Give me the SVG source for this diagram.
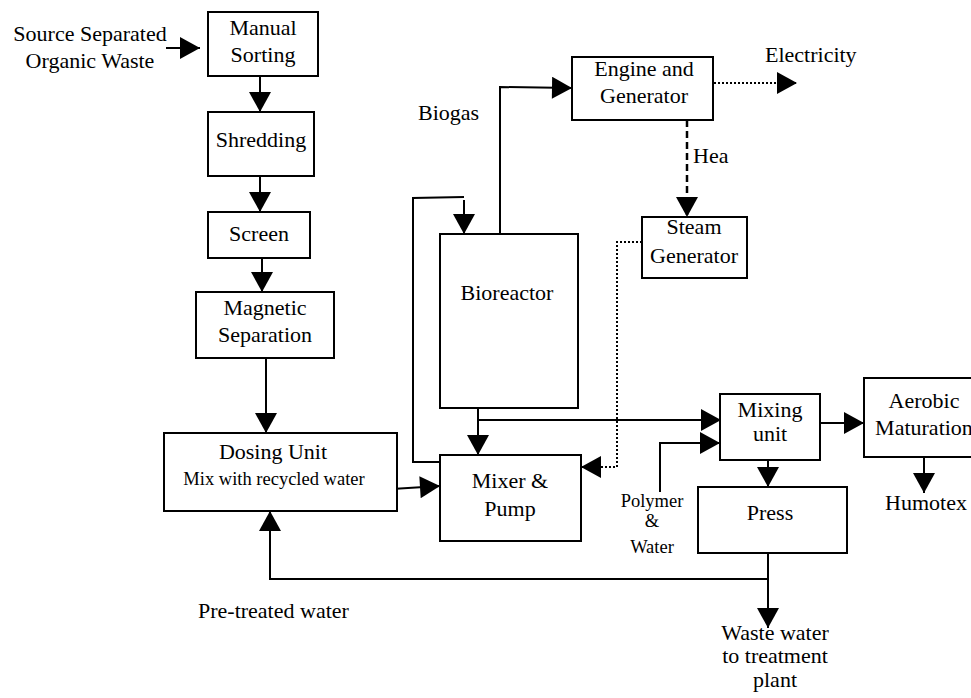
<svg xmlns="http://www.w3.org/2000/svg" width="971" height="698" viewBox="0 0 971 698">
<defs>
<style>
.box{fill:#fff;stroke:#000;stroke-width:2}
text{font-family:'Liberation Serif','DejaVu Serif',serif;font-size:22px;fill:#000;text-anchor:middle}
.s{font-size:18.5px}
.l{text-anchor:start}
.c{fill:none;stroke:#000;stroke-width:2}
.dot{stroke-dasharray:2,2}
.dash{stroke-dasharray:7,4;stroke-width:2.5}
</style>
<marker id="ah" markerUnits="userSpaceOnUse" markerWidth="22" markerHeight="22" refX="20" refY="11" orient="auto" viewBox="0 0 20 22">
<path d="M0,0 L20,11 L0,22 z" fill="#000"/>
</marker>
</defs>
<rect width="971" height="698" fill="#fff"/>
<g id="connectors">
<path class="c" d="M166,48 L200,48" marker-end="url(#ah)"/>
<path class="c" d="M260,76 L260,112" marker-end="url(#ah)"/>
<path class="c" d="M260,176 L260,212" marker-end="url(#ah)"/>
<path class="c" d="M262,258 L262,292" marker-end="url(#ah)"/>
<path class="c" d="M266,358 L266,433" marker-end="url(#ah)"/>
<path class="c" d="M392,489 L440,486" marker-end="url(#ah)"/>
<path class="c" d="M478,408 L478,455" marker-end="url(#ah)"/>
<path class="c" d="M478,420 L721,420" marker-end="url(#ah)"/>
<path class="c" d="M660,492 L660,443 L720,443" marker-end="url(#ah)"/>
<path class="c" d="M768,460 L768,487" marker-end="url(#ah)"/>
<path class="c" d="M820,423 L864,423" marker-end="url(#ah)"/>
<path class="c" d="M924,457 L924,493" marker-end="url(#ah)"/>
<path class="c" d="M768,553 L768,628" marker-end="url(#ah)"/>
<path class="c" d="M768,579 L270,579 L270,511" marker-end="url(#ah)"/>
<path class="c" d="M440,462 L413,462 L413,198 L464,197"/>
<path class="c" d="M464,200 L464,234" marker-end="url(#ah)"/>
<path class="c" d="M500,234 L500,87 L572,88" marker-end="url(#ah)"/>
<path class="c dot" d="M710,83 L797,83" marker-end="url(#ah)"/>
<path class="c dash" d="M687,120 L687,217" marker-end="url(#ah)"/>
<path class="c dot" d="M642,242 L617,242 L617,467 L581,467" marker-end="url(#ah)"/>
</g>
<g id="manual-sorting"><rect class="box" x="208" y="12" width="110" height="64"/><text x="263" y="35">Manual</text><text x="263" y="62">Sorting</text></g>
<g id="shredding"><rect class="box" x="208" y="112" width="106" height="64"/><text x="261" y="147">Shredding</text></g>
<g id="screen"><rect class="box" x="208" y="212" width="102" height="46"/><text x="259" y="241">Screen</text></g>
<g id="magnetic-separation"><rect class="box" x="196" y="292" width="138" height="66"/><text x="265" y="315">Magnetic</text><text x="265" y="342">Separation</text></g>
<g id="dosing-unit"><rect class="box" x="164" y="433" width="233" height="78"/><text x="273" y="459">Dosing Unit</text><text class="s" x="274" y="485">Mix with recycled water</text></g>
<g id="bioreactor"><rect class="box" x="440" y="234" width="138" height="174"/><text x="507" y="300">Bioreactor</text></g>
<g id="mixer-pump"><rect class="box" x="440" y="455" width="141" height="86"/><text x="510" y="488">Mixer &amp;</text><text x="510" y="516">Pump</text></g>
<g id="engine-generator"><rect class="box" x="572" y="57" width="141" height="63"/><text x="644" y="76">Engine and</text><text x="644" y="103">Generator</text></g>
<g id="steam-generator"><rect class="box" x="642" y="217" width="105" height="61"/><text x="694" y="234">Steam</text><text x="694" y="263">Generator</text></g>
<g id="mixing-unit"><rect class="box" x="720" y="394" width="100" height="66"/><text x="770" y="417">Mixing</text><text x="770" y="441">unit</text></g>
<g id="press"><rect class="box" x="698" y="487" width="149" height="66"/><text x="770" y="520">Press</text></g>
<g id="aerobic-maturation"><rect class="box" x="864" y="378" width="120" height="79"/><text x="924" y="408">Aerobic</text><text x="924" y="435">Maturation</text></g>
<g id="labels">
<text x="90" y="41">Source Separated</text>
<text x="90" y="68">Organic Waste</text>
<text class="l" x="418" y="120">Biogas</text>
<text class="l" x="765" y="62">Electricity</text>
<text class="l" x="693" y="163">Hea</text>
<text x="926" y="510">Humotex</text>
<text class="s" x="652" y="507">Polymer</text>
<text class="s" x="652" y="527">&amp;</text>
<text class="s" x="652" y="553">Water</text>
<text x="775" y="640">Waste water</text>
<text x="775" y="663">to treatment</text>
<text x="775" y="687">plant</text>
<text class="l" x="198" y="618">Pre-treated water</text>
</g>
</svg>
